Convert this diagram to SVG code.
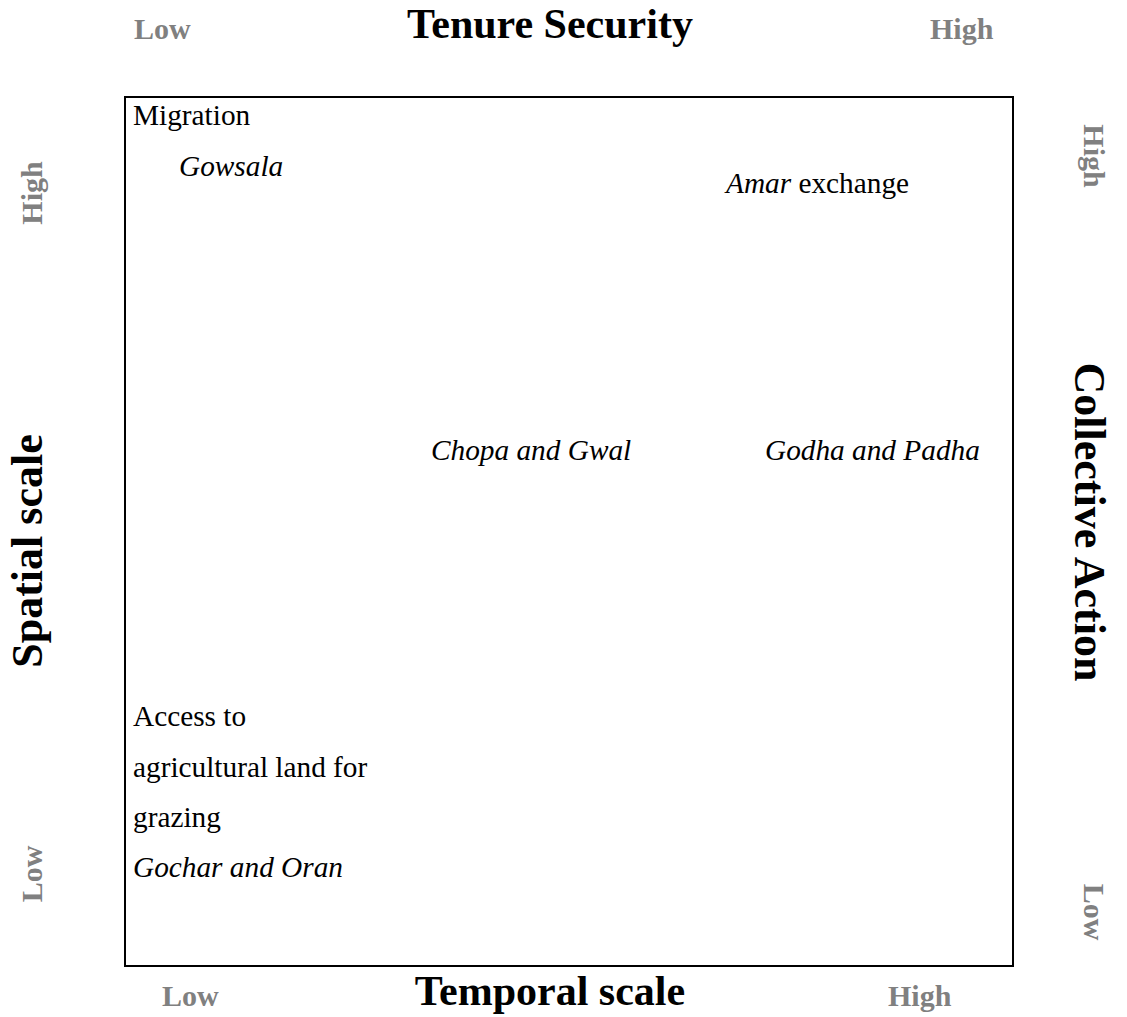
<svg xmlns="http://www.w3.org/2000/svg" width="1127" height="1017" viewBox="0 0 1127 1017">
<style>
text{font-family:"Liberation Serif","Times New Roman","Nimbus Roman","DejaVu Serif",serif;fill:#000}
.t{font-size:42px;font-weight:bold}
.v{font-size:44px;font-weight:bold}
.g{font-size:30px;font-weight:bold;fill:#808080}
.b{font-size:29.3px;font-weight:normal}
.i{font-style:italic}
</style>
<rect width="1127" height="1017" fill="#fff"/>
<g id="frame"><rect x="125" y="97" width="888" height="869" fill="none" stroke="#000" stroke-width="2"/></g>
<g id="axis-top">
<text class="g" x="134" y="39">Low</text>
<text class="t" x="550" y="38" text-anchor="middle">Tenure Security</text>
<text class="g" x="930" y="39">High</text>
</g>
<g id="axis-bottom">
<text class="g" x="162" y="1006">Low</text>
<text class="t" x="550" y="1005" text-anchor="middle">Temporal scale</text>
<text class="g" x="888" y="1006">High</text>
</g>
<g id="axis-left">
<text class="g" transform="translate(42,193) rotate(-90)" text-anchor="middle">High</text>
<text class="v" transform="translate(42,551) rotate(-90)" text-anchor="middle">Spatial scale</text>
<text class="g" transform="translate(42,874) rotate(-90)" text-anchor="middle">Low</text>
</g>
<g id="axis-right">
<text class="g" transform="translate(1084,156) rotate(90)" text-anchor="middle">High</text>
<text class="v" transform="translate(1075,522) rotate(90)" text-anchor="middle">Collective Action</text>
<text class="g" transform="translate(1084,912) rotate(90)" text-anchor="middle">Low</text>
</g>
<g id="node-migration"><text class="b" x="133" y="125">Migration</text></g>
<g id="node-gowsala"><text class="b i" x="179" y="176">Gowsala</text></g>
<g id="node-amar"><text class="b" x="726" y="193"><tspan class="i">Amar</tspan> exchange</text></g>
<g id="node-chopa"><text class="b i" x="431" y="460">Chopa and Gwal</text></g>
<g id="node-godha"><text class="b i" x="765" y="460">Godha and Padha</text></g>
<g id="node-access">
<text class="b" x="133" y="726">Access to</text>
<text class="b" x="133" y="777">agricultural land for</text>
<text class="b" x="133" y="827">grazing</text>
</g>
<g id="node-gochar"><text class="b i" x="133" y="877">Gochar and Oran</text></g>
<g id="connectors"/>
</svg>
